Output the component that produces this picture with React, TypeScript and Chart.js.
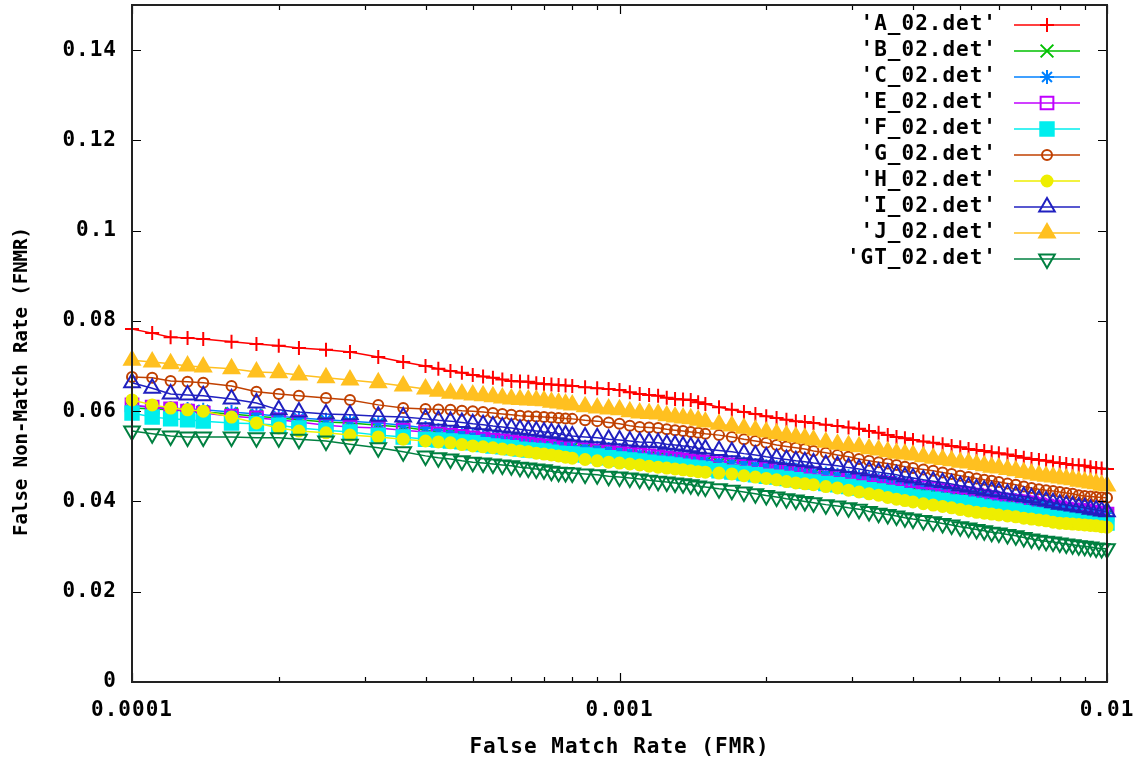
import React, { useEffect, useRef } from 'react';
import { Chart, registerables } from 'chart.js';
import { drawPoint } from 'chart.js/helpers';

Chart.register(...registerables);

// ---- data ----
const FMR = [0.0001, 0.00011, 0.00012, 0.00013, 0.00014, 0.00016, 0.00018, 0.0002, 0.00022, 0.00025, 0.00028, 0.00032, 0.00036,
  0.0004, 0.000425, 0.00045, 0.000475, 0.0005, 0.000525, 0.00055, 0.000575, 0.0006, 0.000625, 0.00065, 0.000675, 0.0007, 0.000725,
  0.00075, 0.000775, 0.0008, 0.00085, 0.0009, 0.00095, 0.001, 0.00105, 0.0011, 0.00115, 0.0012, 0.00125, 0.0013, 0.00135,
  0.0014, 0.00145, 0.0015, 0.0016, 0.0017, 0.0018, 0.0019, 0.002, 0.0021, 0.0022, 0.0023, 0.0024, 0.0025, 0.00265,
  0.0028, 0.00295, 0.0031, 0.00325, 0.0034, 0.00355, 0.0037, 0.00385, 0.004, 0.0042, 0.0044, 0.0046, 0.0048, 0.005,
  0.0052, 0.0054, 0.0056, 0.0058, 0.006, 0.00625, 0.0065, 0.00675, 0.007, 0.00725, 0.0075, 0.00775, 0.008, 0.00825,
  0.0085, 0.00875, 0.009, 0.00925, 0.0095, 0.00975, 0.01];

const A_02 = [0.0782, 0.0773, 0.0764, 0.0762, 0.0760, 0.0754, 0.0749, 0.0745, 0.0740, 0.0736, 0.0731, 0.0720, 0.0709,
  0.0700, 0.0694, 0.0689, 0.0685, 0.0680, 0.0677, 0.0674, 0.0670, 0.0667, 0.0666, 0.0665, 0.0662, 0.0660, 0.0659,
  0.0658, 0.0657, 0.0656, 0.0653, 0.0651, 0.0649, 0.0647, 0.0642, 0.0638, 0.0636, 0.0634, 0.0630, 0.0627, 0.0626,
  0.0625, 0.0620, 0.0616, 0.0609, 0.0603, 0.0598, 0.0594, 0.0589, 0.0585, 0.0581, 0.0578, 0.0576, 0.0574, 0.0570,
  0.0567, 0.0564, 0.0561, 0.0556, 0.0552, 0.0547, 0.0543, 0.0540, 0.0536, 0.0533, 0.0530, 0.0527, 0.0523, 0.0520,
  0.0516, 0.0514, 0.0512, 0.0509, 0.0507, 0.0504, 0.0501, 0.0497, 0.0494, 0.0492, 0.0490, 0.0487, 0.0485, 0.0483,
  0.0481, 0.0480, 0.0479, 0.0476, 0.0474, 0.0473, 0.0472];
const B_02 = [0.0607, 0.0605, 0.0603, 0.0600, 0.0598, 0.0594, 0.0589, 0.0585, 0.0581, 0.0576, 0.0574, 0.0569, 0.0565,
  0.0558, 0.0554, 0.0550, 0.0546, 0.0543, 0.0540, 0.0538, 0.0536, 0.0534, 0.0532, 0.0530, 0.0527, 0.0525, 0.0524,
  0.0523, 0.0521, 0.0519, 0.0516, 0.0514, 0.0512, 0.0510, 0.0506, 0.0503, 0.0501, 0.0499, 0.0498, 0.0496, 0.0494,
  0.0492, 0.0490, 0.0487, 0.0485, 0.0483, 0.0479, 0.0476, 0.0474, 0.0472, 0.0468, 0.0465, 0.0463, 0.0461, 0.0457,
  0.0454, 0.0452, 0.0450, 0.0446, 0.0443, 0.0440, 0.0437, 0.0434, 0.0432, 0.0428, 0.0425, 0.0422, 0.0419, 0.0416,
  0.0414, 0.0411, 0.0408, 0.0405, 0.0403, 0.0401, 0.0399, 0.0395, 0.0392, 0.0390, 0.0388, 0.0385, 0.0383, 0.0381,
  0.0379, 0.0378, 0.0377, 0.0374, 0.0372, 0.0371, 0.0370];
const C_02 = [0.0612, 0.0609, 0.0607, 0.0605, 0.0603, 0.0598, 0.0594, 0.0589, 0.0585, 0.0581, 0.0578, 0.0574, 0.0569,
  0.0563, 0.0558, 0.0554, 0.0550, 0.0547, 0.0545, 0.0543, 0.0540, 0.0538, 0.0536, 0.0534, 0.0532, 0.0530, 0.0528,
  0.0527, 0.0525, 0.0523, 0.0521, 0.0519, 0.0516, 0.0514, 0.0510, 0.0507, 0.0505, 0.0503, 0.0502, 0.0501, 0.0498,
  0.0496, 0.0494, 0.0492, 0.0489, 0.0487, 0.0484, 0.0481, 0.0478, 0.0476, 0.0473, 0.0470, 0.0467, 0.0465, 0.0462,
  0.0459, 0.0456, 0.0454, 0.0451, 0.0448, 0.0444, 0.0441, 0.0439, 0.0437, 0.0433, 0.0430, 0.0426, 0.0423, 0.0421,
  0.0419, 0.0415, 0.0412, 0.0410, 0.0408, 0.0405, 0.0403, 0.0400, 0.0397, 0.0394, 0.0392, 0.0390, 0.0388, 0.0385,
  0.0383, 0.0382, 0.0381, 0.0379, 0.0377, 0.0375, 0.0374];
const E_02 = [0.0614, 0.0609, 0.0605, 0.0600, 0.0596, 0.0589, 0.0585, 0.0581, 0.0576, 0.0569, 0.0565, 0.0563, 0.0558,
  0.0554, 0.0550, 0.0547, 0.0544, 0.0541, 0.0538, 0.0536, 0.0534, 0.0532, 0.0529, 0.0527, 0.0525, 0.0523, 0.0522,
  0.0521, 0.0520, 0.0519, 0.0515, 0.0512, 0.0510, 0.0507, 0.0505, 0.0503, 0.0501, 0.0499, 0.0496, 0.0494, 0.0492,
  0.0490, 0.0488, 0.0487, 0.0484, 0.0481, 0.0478, 0.0476, 0.0473, 0.0470, 0.0467, 0.0465, 0.0463, 0.0461, 0.0457,
  0.0454, 0.0451, 0.0448, 0.0445, 0.0443, 0.0440, 0.0437, 0.0434, 0.0432, 0.0430, 0.0428, 0.0424, 0.0421, 0.0419,
  0.0417, 0.0414, 0.0412, 0.0408, 0.0405, 0.0403, 0.0401, 0.0399, 0.0397, 0.0393, 0.0390, 0.0388, 0.0386, 0.0383,
  0.0381, 0.0380, 0.0379, 0.0376, 0.0374, 0.0373, 0.0372];
const F_02 = [0.0596, 0.0587, 0.0583, 0.0581, 0.0578, 0.0574, 0.0572, 0.0569, 0.0563, 0.0558, 0.0554, 0.0547, 0.0543,
  0.0538, 0.0536, 0.0534, 0.0532, 0.0530, 0.0526, 0.0523, 0.0521, 0.0519, 0.0516, 0.0514, 0.0513, 0.0512, 0.0509,
  0.0507, 0.0506, 0.0505, 0.0503, 0.0501, 0.0497, 0.0494, 0.0492, 0.0490, 0.0487, 0.0485, 0.0483, 0.0481, 0.0478,
  0.0476, 0.0474, 0.0472, 0.0468, 0.0465, 0.0462, 0.0459, 0.0456, 0.0454, 0.0451, 0.0448, 0.0445, 0.0443, 0.0440,
  0.0437, 0.0433, 0.0430, 0.0426, 0.0423, 0.0420, 0.0417, 0.0413, 0.0410, 0.0408, 0.0405, 0.0402, 0.0399, 0.0397,
  0.0394, 0.0391, 0.0388, 0.0385, 0.0383, 0.0381, 0.0379, 0.0375, 0.0372, 0.0370, 0.0368, 0.0365, 0.0363, 0.0361,
  0.0359, 0.0358, 0.0357, 0.0356, 0.0355, 0.0353, 0.0352];
const G_02 = [0.0676, 0.0674, 0.0667, 0.0665, 0.0663, 0.0656, 0.0643, 0.0638, 0.0634, 0.0629, 0.0625, 0.0614, 0.0607,
  0.0605, 0.0604, 0.0603, 0.0601, 0.0600, 0.0598, 0.0596, 0.0594, 0.0592, 0.0590, 0.0589, 0.0588, 0.0587, 0.0586,
  0.0585, 0.0584, 0.0583, 0.0580, 0.0578, 0.0575, 0.0572, 0.0568, 0.0565, 0.0564, 0.0563, 0.0560, 0.0558, 0.0556,
  0.0554, 0.0552, 0.0550, 0.0547, 0.0543, 0.0538, 0.0534, 0.0530, 0.0525, 0.0522, 0.0519, 0.0516, 0.0512, 0.0508,
  0.0503, 0.0499, 0.0494, 0.0490, 0.0487, 0.0484, 0.0481, 0.0477, 0.0474, 0.0471, 0.0468, 0.0464, 0.0461, 0.0457,
  0.0454, 0.0451, 0.0448, 0.0446, 0.0443, 0.0440, 0.0437, 0.0433, 0.0430, 0.0427, 0.0425, 0.0423, 0.0421, 0.0419,
  0.0417, 0.0414, 0.0412, 0.0411, 0.0410, 0.0409, 0.0408];
const H_02 = [0.0625, 0.0614, 0.0607, 0.0603, 0.0600, 0.0587, 0.0574, 0.0563, 0.0556, 0.0552, 0.0547, 0.0543, 0.0538,
  0.0534, 0.0532, 0.0530, 0.0526, 0.0523, 0.0521, 0.0519, 0.0516, 0.0514, 0.0512, 0.0510, 0.0507, 0.0505, 0.0503,
  0.0501, 0.0498, 0.0496, 0.0493, 0.0490, 0.0487, 0.0485, 0.0483, 0.0481, 0.0478, 0.0476, 0.0474, 0.0472, 0.0470,
  0.0468, 0.0466, 0.0465, 0.0463, 0.0461, 0.0457, 0.0454, 0.0451, 0.0448, 0.0444, 0.0441, 0.0439, 0.0437, 0.0433,
  0.0430, 0.0425, 0.0421, 0.0417, 0.0414, 0.0409, 0.0405, 0.0402, 0.0399, 0.0395, 0.0392, 0.0389, 0.0386, 0.0382,
  0.0379, 0.0376, 0.0374, 0.0372, 0.0370, 0.0368, 0.0366, 0.0363, 0.0361, 0.0359, 0.0357, 0.0354, 0.0352, 0.0351,
  0.0350, 0.0349, 0.0348, 0.0347, 0.0346, 0.0344, 0.0343];
const I_02 = [0.0663, 0.0651, 0.0638, 0.0636, 0.0634, 0.0627, 0.0618, 0.0603, 0.0598, 0.0594, 0.0592, 0.0589, 0.0587,
  0.0583, 0.0580, 0.0578, 0.0575, 0.0572, 0.0570, 0.0567, 0.0565, 0.0563, 0.0560, 0.0558, 0.0556, 0.0554, 0.0552,
  0.0550, 0.0547, 0.0545, 0.0543, 0.0541, 0.0538, 0.0536, 0.0534, 0.0532, 0.0531, 0.0530, 0.0527, 0.0525, 0.0523,
  0.0521, 0.0518, 0.0516, 0.0513, 0.0510, 0.0506, 0.0503, 0.0499, 0.0496, 0.0493, 0.0490, 0.0488, 0.0485, 0.0482,
  0.0479, 0.0475, 0.0472, 0.0468, 0.0465, 0.0462, 0.0459, 0.0455, 0.0452, 0.0448, 0.0445, 0.0442, 0.0439, 0.0435,
  0.0432, 0.0428, 0.0425, 0.0423, 0.0421, 0.0417, 0.0414, 0.0411, 0.0408, 0.0404, 0.0401, 0.0397, 0.0394, 0.0392,
  0.0390, 0.0388, 0.0386, 0.0383, 0.0381, 0.0379, 0.0377];
const J_02 = [0.0713, 0.0709, 0.0705, 0.0700, 0.0698, 0.0694, 0.0687, 0.0685, 0.0680, 0.0674, 0.0669, 0.0663, 0.0656,
  0.0649, 0.0644, 0.0640, 0.0638, 0.0636, 0.0634, 0.0632, 0.0629, 0.0627, 0.0626, 0.0625, 0.0624, 0.0623, 0.0620,
  0.0618, 0.0616, 0.0614, 0.0610, 0.0607, 0.0605, 0.0603, 0.0599, 0.0596, 0.0595, 0.0594, 0.0590, 0.0587, 0.0585,
  0.0583, 0.0580, 0.0576, 0.0571, 0.0567, 0.0562, 0.0558, 0.0554, 0.0550, 0.0546, 0.0543, 0.0540, 0.0536, 0.0531,
  0.0527, 0.0524, 0.0521, 0.0517, 0.0514, 0.0510, 0.0507, 0.0505, 0.0503, 0.0499, 0.0496, 0.0493, 0.0490, 0.0487,
  0.0485, 0.0482, 0.0479, 0.0476, 0.0474, 0.0471, 0.0468, 0.0464, 0.0461, 0.0458, 0.0456, 0.0454, 0.0452, 0.0450,
  0.0448, 0.0445, 0.0443, 0.0441, 0.0439, 0.0436, 0.0434];
const GT_02 = [0.0556, 0.0550, 0.0545, 0.0543, 0.0543, 0.0543, 0.0541, 0.0541, 0.0538, 0.0534, 0.0527, 0.0519, 0.0510,
  0.0501, 0.0497, 0.0494, 0.0490, 0.0487, 0.0485, 0.0483, 0.0481, 0.0479, 0.0476, 0.0474, 0.0472, 0.0470, 0.0467,
  0.0465, 0.0464, 0.0463, 0.0461, 0.0459, 0.0456, 0.0454, 0.0452, 0.0450, 0.0447, 0.0445, 0.0443, 0.0441, 0.0439,
  0.0437, 0.0434, 0.0432, 0.0428, 0.0425, 0.0421, 0.0417, 0.0413, 0.0410, 0.0406, 0.0403, 0.0400, 0.0397, 0.0393,
  0.0390, 0.0386, 0.0383, 0.0378, 0.0374, 0.0371, 0.0368, 0.0364, 0.0361, 0.0358, 0.0355, 0.0351, 0.0348, 0.0344,
  0.0341, 0.0338, 0.0335, 0.0332, 0.0330, 0.0327, 0.0324, 0.0320, 0.0317, 0.0314, 0.0312, 0.0310, 0.0308, 0.0306,
  0.0304, 0.0302, 0.0301, 0.0299, 0.0297, 0.0296, 0.0295];

const SERIES_LABELS = ["'A_02.det'", "'B_02.det'", "'C_02.det'", "'E_02.det'", "'F_02.det'", "'G_02.det'", "'H_02.det'", "'I_02.det'", "'J_02.det'", "'GT_02.det'"];
const SERIES_VALUES = [A_02, B_02, C_02, E_02, F_02, G_02, H_02, I_02, J_02, GT_02];

const Y_TICKS = [0, 0.02, 0.04, 0.06, 0.08, 0.1, 0.12, 0.14];
const Y_TICK_LABELS = ['0', '0.02', '0.04', '0.06', '0.08', '0.1', '0.12', '0.14'];
const X_TICKS = [0.0001, 0.0002, 0.0003, 0.0004, 0.0005, 0.0006, 0.0007, 0.0008, 0.0009, 0.001, 0.002, 0.003, 0.004, 0.005, 0.006, 0.007, 0.008, 0.009, 0.01];
const X_MAJOR = [0.0001, 0.001, 0.01];
const X_TICK_LABELS = ['0.0001', '0.001', '0.01'];

const X_TITLE = 'False Match Rate (FMR)';
const Y_TITLE = 'False Non-Match Rate (FNMR)';

// ---- styles ----
type Sty = { color: string; pointStyle: string; radius: number; filled: boolean; rotation: number };
const STYLES: Sty[] = [
  { color: '#ff0000', pointStyle: 'cross', radius: 7, filled: false, rotation: 0 },
  { color: '#00c000', pointStyle: 'crossRot', radius: 9, filled: false, rotation: 0 },
  { color: '#0080ff', pointStyle: 'star', radius: 7, filled: false, rotation: 0 },
  { color: '#c000ff', pointStyle: 'rect', radius: 9, filled: false, rotation: 0 },
  { color: '#00eeee', pointStyle: 'rect', radius: 9.5, filled: true, rotation: 0 },
  { color: '#c04000', pointStyle: 'circle', radius: 5, filled: false, rotation: 0 },
  { color: '#eeee00', pointStyle: 'circle', radius: 5.5, filled: true, rotation: 0 },
  { color: '#2020c0', pointStyle: 'triangle', radius: 9, filled: false, rotation: 0 },
  { color: '#ffc020', pointStyle: 'triangle', radius: 9, filled: true, rotation: 0 },
  { color: '#008040', pointStyle: 'triangle', radius: 9, filled: false, rotation: 180 },
];
const MARK_WIDTH = 2;
const LINE_WIDTH = 1.5;

const FONT_FAMILY = '"DejaVu Sans Mono", "Liberation Mono", monospace';
const LABEL_FONT = { family: FONT_FAMILY, size: 21, weight: 'bold' as const };
const TRANSPARENT = 'rgba(0,0,0,0)';

const gnuplotPlugin = {
  id: 'gnuplotDecor',
  beforeDraw(chart: any) {
    chart.ctx.letterSpacing = '1px';
  },
  afterDatasetsDraw(chart: any) {
    const { ctx, chartArea: a, scales } = chart;
    const xs = scales.x;
    const ys = scales.y;
    ctx.save();
    ctx.strokeStyle = '#000';
    ctx.lineWidth = 1.2;
    ctx.beginPath();
    for (const t of ys.ticks) {
      const py = Math.round(ys.getPixelForValue(t.value)) + 0.5;
      ctx.moveTo(a.left, py); ctx.lineTo(a.left + 9, py);
      ctx.moveTo(a.right, py); ctx.lineTo(a.right - 9, py);
    }
    for (const t of xs.ticks) {
      const px = Math.round(xs.getPixelForValue(t.value)) + 0.5;
      const len = X_MAJOR.includes(t.value) ? 9 : 5;
      ctx.moveTo(px, a.bottom); ctx.lineTo(px, a.bottom - len);
      ctx.moveTo(px, a.top); ctx.lineTo(px, a.top + len);
    }
    ctx.stroke();
    ctx.strokeStyle = '#222';
    ctx.lineWidth = 2;
    ctx.strokeRect(a.left, a.top, a.right - a.left, a.bottom - a.top);

    // legend (top-right, gnuplot style)
    ctx.font = `bold ${LABEL_FONT.size}px ${FONT_FAMILY}`;
    ctx.textAlign = 'right';
    ctx.textBaseline = 'middle';
    const textRight = a.right - 110;
    const lineL = a.right - 93;
    const lineR = a.right - 27;
    const mid = (lineL + lineR) / 2;
    SERIES_LABELS.forEach((lab, i) => {
      const st = STYLES[i];
      const yy = a.top + 20 + 26 * i;
      ctx.fillStyle = '#000';
      ctx.fillText(lab, textRight, yy);
      ctx.strokeStyle = st.color;
      ctx.lineWidth = LINE_WIDTH;
      ctx.beginPath();
      ctx.moveTo(lineL, yy); ctx.lineTo(lineR, yy);
      ctx.stroke();
      ctx.fillStyle = st.filled ? st.color : TRANSPARENT;
      ctx.lineWidth = MARK_WIDTH;
      drawPoint(ctx, { pointStyle: st.pointStyle as any, radius: st.radius, rotation: st.rotation, borderWidth: MARK_WIDTH }, mid, yy);
    });

    // y axis title
    ctx.save();
    ctx.letterSpacing = '0px';
    ctx.font = `bold 19px ${FONT_FAMILY}`;
    ctx.fillStyle = '#000';
    ctx.textAlign = 'center';
    ctx.textBaseline = 'middle';
    ctx.translate(22, chart.height / 2);
    ctx.rotate(-Math.PI / 2);
    ctx.fillText(Y_TITLE, 0, 0);
    ctx.restore();

    ctx.restore();
  },
};

const zeroPad = (s: any) => { s.paddingTop = 0; s.paddingBottom = 0; s.paddingLeft = 0; s.paddingRight = 0; };

export default function App() {
  const ref = useRef<HTMLCanvasElement | null>(null);
  useEffect(() => {
    if (!ref.current) return;
    const datasets = SERIES_LABELS.map((label, i) => {
      const st = STYLES[i];
      return {
        label,
        data: FMR.map((x, k) => ({ x, y: SERIES_VALUES[i][k] })),
        borderColor: st.color,
        backgroundColor: st.filled ? st.color : TRANSPARENT,
        pointBorderColor: st.color,
        pointBackgroundColor: st.filled ? st.color : TRANSPARENT,
        pointStyle: st.pointStyle,
        pointRadius: st.radius,
        pointHoverRadius: st.radius,
        pointRotation: st.rotation,
        pointBorderWidth: MARK_WIDTH,
        borderWidth: LINE_WIDTH,
        tension: 0,
        fill: false,
        order: SERIES_LABELS.length - 1 - i,
        clip: false as any,
      };
    });
    const chart = new Chart(ref.current, {
      type: 'line',
      data: { datasets } as any,
      options: {
        animation: false,
        responsive: false,
        maintainAspectRatio: false,
        events: [],
        layout: { autoPadding: false, padding: { left: 0, right: 41, top: 5, bottom: 0 } },
        plugins: { legend: { display: false }, tooltip: { enabled: false }, title: { display: false } },
        scales: {
          x: {
            type: 'logarithmic',
            position: 'bottom',
            min: 0.0001,
            max: 0.01,
            afterFit: (s: any) => { s.height = 81; zeroPad(s); },
            afterBuildTicks: (s: any) => { s.ticks = X_TICKS.map((v) => ({ value: v, major: X_MAJOR.includes(v) })); },
            grid: { display: false, drawTicks: false },
            border: { display: false },
            ticks: {
              autoSkip: false,
              maxRotation: 0,
              minRotation: 0,
              padding: 16,
              color: '#000',
              font: LABEL_FONT,
              callback: (v: any) => { const k = X_MAJOR.indexOf(Number(v)); return k >= 0 ? X_TICK_LABELS[k] : ''; },
            },
            title: { display: true, text: X_TITLE, color: '#000', font: LABEL_FONT, padding: { top: 0, bottom: 3 } },
          },
          y: {
            type: 'linear',
            min: 0,
            max: 0.15,
            afterFit: (s: any) => { s.width = 132; zeroPad(s); },
            afterBuildTicks: (s: any) => { s.ticks = Y_TICKS.map((v) => ({ value: v })); },
            grid: { display: false, drawTicks: false },
            border: { display: false },
            ticks: {
              padding: 15,
              color: '#000',
              font: LABEL_FONT,
              callback: (v: any) => { const k = Y_TICKS.indexOf(Number(v)); return k >= 0 ? Y_TICK_LABELS[k] : ''; },
            },
          },
        },
      } as any,
      plugins: [gnuplotPlugin],
    });
    return () => chart.destroy();
  }, []);
  return (
    <div style={{ position: 'fixed', left: 0, top: 0, width: 1148, height: 763, background: '#fff' }}>
      <canvas ref={ref} width={1148} height={763} style={{ display: 'block', width: 1148, height: 763 }} />
    </div>
  );
}
